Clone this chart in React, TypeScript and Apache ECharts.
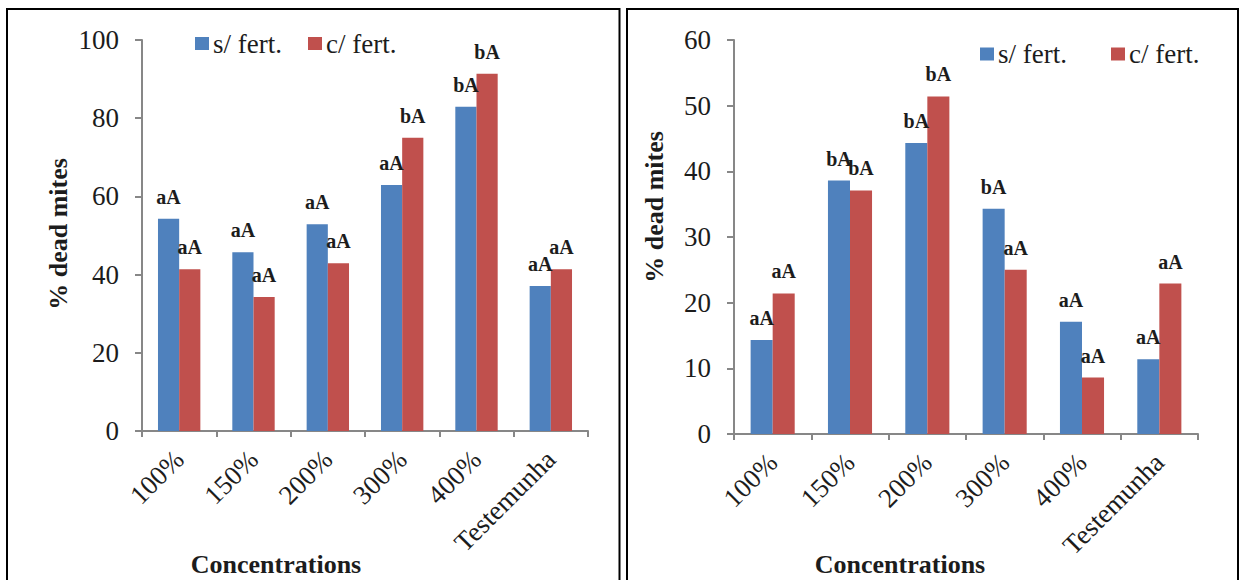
import React, { useEffect, useRef } from "react";
import * as echarts from "echarts";

const categories = ["100%", "150%", "200%", "300%", "400%", "Testemunha"];
const seriesNames = ["s/ fert.", "c/ fert."];

const leftSemFert = [54.3, 45.7, 52.9, 62.9, 82.9, 37.1];
const leftComFert = [41.4, 34.3, 42.9, 75.0, 91.4, 41.4];
const leftSemLabels = ["aA", "aA", "aA", "aA", "bA", "aA"];
const leftComLabels = ["aA", "aA", "aA", "bA", "bA", "aA"];

const rightSemFert = [14.3, 38.6, 44.3, 34.3, 17.1, 11.4];
const rightComFert = [21.4, 37.1, 51.4, 25.0, 8.6, 22.9];
const rightSemLabels = ["aA", "bA", "bA", "bA", "aA", "aA"];
const rightComLabels = ["aA", "bA", "bA", "aA", "aA", "aA"];

const leftYMax = 100;
const leftYInterval = 20;
const rightYMax = 60;
const rightYInterval = 10;

const yTitle = "% dead mites";
const xTitle = "Concentrations";

const FONT = "Liberation Serif, Times New Roman, serif";
const BLUE = "#4F81BD";
const RED = "#C0504D";
const AXIS = "#878787";
const TEXT = "#1c1c1c";

function barSeries(name: string, data: number[], labels: string[], color: string, idx: number) {
  return {
    type: "bar",
    name,
    xAxisIndex: idx,
    yAxisIndex: idx,
    data,
    barWidth: "28.5%",
    barGap: "0%",
    itemStyle: { color },
    label: {
      show: true,
      position: "top",
      distance: 12,
      formatter: (p: any) => labels[p.dataIndex],
      fontFamily: FONT,
      fontWeight: "bold",
      fontSize: 20,
      color: TEXT,
    },
  };
}

function xAxis(idx: number) {
  return {
    type: "category",
    gridIndex: idx,
    data: categories,
    axisLine: { show: true, lineStyle: { color: AXIS, width: 2 } },
    axisTick: { show: true, length: 6, lineStyle: { color: AXIS, width: 2 } },
    axisLabel: {
      rotate: 45,
      margin: 24,
      fontFamily: FONT,
      fontSize: 27,
      color: TEXT,
    },
  };
}

function yAxis(idx: number, max: number, interval: number) {
  return {
    type: "value",
    gridIndex: idx,
    min: 0,
    max,
    interval,
    splitLine: { show: false },
    axisLine: { show: true, lineStyle: { color: AXIS, width: 2 } },
    axisTick: { show: true, length: 7, lineStyle: { color: AXIS, width: 2 } },
    axisLabel: {
      margin: 23,
      fontFamily: FONT,
      fontSize: 27,
      color: TEXT,
    },
  };
}

export default function App() {
  const ref = useRef<HTMLDivElement>(null);
  useEffect(() => {
    if (!ref.current) return;
    const chart = echarts.init(ref.current, undefined, { renderer: "svg" });
    const titleStyle = {
      fontFamily: FONT,
      fontWeight: "bold",
      fontSize: 26,
      fill: TEXT,
      align: "center",
      verticalAlign: "middle",
    };
    const legendText = { fontFamily: FONT, fontSize: 27, color: TEXT, padding: [0, 0, 0, -1] };
    chart.setOption({
      animation: false,
      backgroundColor: "#ffffff",
      grid: [
        { left: 142, top: 40, width: 446, height: 391 },
        { left: 734, top: 40, width: 464, height: 394 },
      ],
      legend: [
        {
          data: seriesNames,
          left: 195,
          top: 30,
          padding: 0,
          itemGap: 26,
          itemWidth: 14,
          itemHeight: 13,
          icon: "rect",
          textStyle: legendText,
        },
        {
          data: seriesNames,
          left: 980,
          top: 40.5,
          padding: 0,
          itemGap: 44,
          itemWidth: 14,
          itemHeight: 13,
          icon: "rect",
          textStyle: legendText,
        },
      ],
      xAxis: [xAxis(0), xAxis(1)],
      yAxis: [yAxis(0, leftYMax, leftYInterval), yAxis(1, rightYMax, rightYInterval)],
      series: [
        barSeries(seriesNames[0], leftSemFert, leftSemLabels, BLUE, 0),
        barSeries(seriesNames[1], leftComFert, leftComLabels, RED, 0),
        barSeries(seriesNames[0], rightSemFert, rightSemLabels, BLUE, 1),
        barSeries(seriesNames[1], rightComFert, rightComLabels, RED, 1),
      ],
      graphic: [
        {
          type: "rect",
          shape: { x: 7, y: 9, width: 612.5, height: 600 },
          style: { fill: "none", stroke: "#000", lineWidth: 2 },
          silent: true,
        },
        {
          type: "rect",
          shape: { x: 627, y: 9, width: 611, height: 600 },
          style: { fill: "none", stroke: "#000", lineWidth: 2 },
          silent: true,
        },
        {
          type: "text",
          x: 58,
          y: 234,
          rotation: Math.PI / 2,
          style: { text: yTitle, ...titleStyle },
        },
        {
          type: "text",
          x: 654,
          y: 207,
          rotation: Math.PI / 2,
          style: { text: yTitle, ...titleStyle },
        },
        {
          type: "text",
          x: 276,
          y: 564,
          style: { text: xTitle, ...titleStyle },
        },
        {
          type: "text",
          x: 900,
          y: 564,
          style: { text: xTitle, ...titleStyle },
        },
      ],
    });
    return () => chart.dispose();
  }, []);
  return (
    <div
      ref={ref}
      style={{ position: "fixed", left: 0, top: 0, width: 1240, height: 580 }}
    />
  );
}
